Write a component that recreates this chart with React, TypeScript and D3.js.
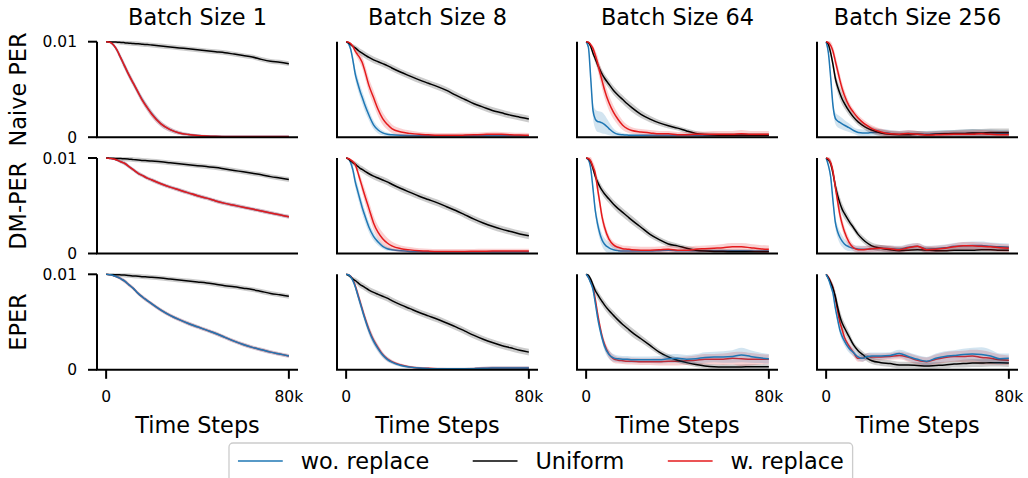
import React from "react";
import * as d3 from "d3";

// x grid in thousands of steps
const XK = [0, 1, 2, 3, 4, 5, 6, 7, 8, 10, 12, 14, 16, 18, 20, 24, 28, 32, 36, 40, 44, 48, 52, 56, 60, 64, 68, 72, 76, 80];

const ROW_LABELS = ["Naive PER", "DM-PER", "EPER"];
const COL_TITLES = ["Batch Size 1", "Batch Size 8", "Batch Size 64", "Batch Size 256"];
const X_TICKS = [0, 80000];
const X_TICK_LABELS = ["0", "80k"];
const Y_TICKS = [0, 0.01];
const Y_TICK_LABELS = ["0", "0.01"];
const SERIES_NAMES = ["wo. replace", "Uniform", "w. replace"];
const X_LABEL = "Time Steps";

// values in units of 1e-4
// ---- Naive PER ----
const naiveB1Blue = [100, 99.8, 99, 97, 94, 90, 85, 80, 75, 65, 56, 47, 38.5, 31, 24.5, 14, 8, 4.5, 2.8, 1.8, 1.2, 0.9, 0.8, 0.7, 0.7, 0.7, 0.7, 0.7, 0.7, 0.7];
const naiveB1Black = [100, 99.9, 99.8, 99.7, 99.6, 99.5, 99.3, 99.2, 99, 98.5, 98, 97.8, 97.3, 97, 96.5, 95.5, 94.5, 93.5, 92.5, 91.5, 90.5, 89.5, 88.5, 87, 85.5, 84, 81.5, 79.5, 78.5, 77];
const naiveB1Red = [100, 99.8, 99, 97, 94, 90, 85, 80, 75, 65, 56, 47, 38, 31, 24, 14, 8, 4.5, 2.8, 1.8, 1.2, 0.9, 0.8, 0.7, 0.7, 0.7, 0.7, 0.7, 0.7, 0.7];

const naiveB8Blue = [100, 98, 92, 80, 66, 57, 49, 42, 35, 23, 13, 7.5, 4.5, 3, 2.5, 2, 1.8, 1.6, 1.5, 1.5, 1.5, 1.5, 1.5, 1.5, 1.5, 1.5, 1.5, 1.5, 1.5, 1.5];
const naiveB8Black = [100, 99, 97, 95, 93.5, 91.5, 89.5, 88, 86.5, 83.5, 81, 79, 77, 75, 72.5, 68, 64, 60, 56.5, 53, 49, 44, 39.5, 35, 31.5, 28, 25.5, 23, 21, 19];
const naiveB8Red = [100, 99.5, 98, 95, 90, 86.5, 83, 78.5, 71, 54, 41.5, 29, 19.5, 13.5, 9, 5.5, 4, 3, 2.5, 2, 2, 2, 2.2, 2.5, 2.8, 3.2, 3, 2.5, 2.2, 2];

const naiveB64Blue = [100, 94, 62, 28, 19, 16.5, 16, 15, 13.5, 9, 5, 3, 2.5, 2.2, 2, 2, 2, 2, 2, 2, 2, 2, 2, 2, 2, 2, 2, 2, 2, 2];
const naiveB64Black = [100, 99, 95, 88, 82, 76, 71, 66, 62, 55.5, 49, 44, 39.5, 35, 31, 24, 19, 15, 12, 9.5, 6.5, 4, 2.8, 2.2, 2, 2, 2, 2, 2, 2];
const naiveB64Red = [100, 99.5, 97, 93, 86, 78, 68, 59, 50, 36, 26, 18.5, 12.5, 9, 7, 5.5, 4.5, 3.5, 3.5, 2.5, 2.5, 3, 3, 3, 3, 3, 3.5, 3, 3, 3];

const naiveB256Blue = [100, 88, 62, 33, 20, 17, 15.5, 14, 12.5, 10, 7, 5, 4.5, 4.5, 5, 5, 4, 3, 4, 3, 3, 3.5, 4, 4, 4, 4.5, 4, 4, 3.5, 3.5];
const naiveB256Black = [100, 97, 88, 76, 62, 53, 46, 40, 35.5, 27.5, 21, 16, 12.5, 9.5, 7.5, 4.5, 3, 2.5, 2.5, 3, 2.5, 3, 3.5, 4, 4, 4.5, 4.5, 5, 5, 5];
const naiveB256Red = [100, 99, 96, 90, 80, 70, 60, 51, 44, 33, 26, 20, 15.5, 12, 9, 5.5, 3.5, 3, 4, 3, 2.2, 2.5, 2.8, 3, 3, 3, 3.5, 3, 2.5, 2.5];

// ---- DM-PER ----
const dmB1Blue = [100, 99.8, 99.5, 99, 98.5, 97.5, 96.5, 95.5, 94.5, 91, 87.5, 84, 81.5, 79, 77, 73, 69.5, 66.5, 63.5, 60.5, 58, 55, 52.5, 50.5, 48.5, 46.5, 44.5, 42.5, 40.5, 38.5];
const dmB1Black = [100, 99.9, 99.8, 99.7, 99.6, 99.5, 99.4, 99.3, 99.2, 98.8, 98.3, 98, 97.5, 97.2, 96.8, 96, 95, 94, 93, 92, 91, 90, 88.5, 87, 85.5, 84, 82.5, 80.5, 79, 77.5];
const dmB1Red = [100, 99.8, 99.5, 99, 98.5, 97.5, 96.5, 95.5, 94.5, 91, 87.5, 84, 81.5, 79, 77, 73, 69.5, 66.5, 63.5, 60.5, 58, 55, 52.5, 50.5, 48.5, 46.5, 44.5, 42.5, 40.5, 38.5];

const dmB8Blue = [100, 99, 95, 87, 75, 66, 57, 48.5, 41, 27.5, 18, 12, 7.5, 5, 4, 2.8, 2.2, 2, 1.8, 1.8, 1.8, 1.8, 1.8, 1.8, 1.8, 1.8, 1.8, 1.8, 1.8, 1.8];
const dmB8Black = [100, 99, 97, 95, 93.5, 91.5, 89.5, 88, 86.5, 83.5, 81, 79, 77, 75, 72.5, 68, 64, 60, 56.5, 53, 49, 45, 40.5, 36, 32, 28.5, 25.5, 23, 20.5, 18.5];
const dmB8Red = [100, 99.5, 98, 96, 93, 86, 78, 70, 62, 47, 32, 22, 15.5, 11, 8, 5, 3.8, 3, 2.5, 2.2, 2.2, 2.2, 2.2, 2.3, 2.4, 2.5, 2.5, 2.5, 2.5, 2.5];

const dmB64Blue = [100, 98, 89, 68, 45, 31, 21, 14, 10, 6, 4, 3, 2.5, 2.5, 2.5, 2.5, 2.5, 3, 3.5, 3, 2.8, 3, 3, 3, 3, 3, 3, 2.8, 2.5, 2.5];
const dmB64Black = [100, 99, 96, 89, 81, 75, 70, 66, 62.5, 57, 51.5, 47, 43, 39, 35, 27.5, 20, 14.5, 10, 8, 5.5, 3.5, 2.5, 2, 2, 1.8, 1.8, 1.8, 1.8, 1.8];
const dmB64Red = [100, 99.5, 97, 91, 84, 68, 53, 38, 28, 15, 9, 6.5, 5, 4.5, 4, 3.5, 3.5, 3.8, 4.5, 3.5, 3.5, 4.5, 5, 5.5, 6, 7, 7, 6, 5, 4.5];

const dmB256Blue = [100, 92, 80, 55, 33, 23, 17, 13, 10, 7, 5.5, 4.8, 4.5, 4.5, 5, 5.5, 5, 4.5, 6.5, 7.5, 4.5, 5, 6, 7.5, 8, 8.5, 8.5, 7.5, 7, 6.5];
const dmB256Black = [100, 98, 94, 84, 71, 61, 53, 46.5, 42, 34, 27, 20, 15, 11, 8, 5.5, 4, 3, 3.5, 4, 3.5, 3, 3, 3.5, 3.5, 3.5, 4, 4, 3.5, 3.5];
const dmB256Red = [100, 99, 95, 86, 70, 55, 41, 31, 23, 12, 6, 4, 4, 4.5, 5, 5.5, 5, 4, 6, 7.5, 4, 4.5, 5.5, 7, 8, 8, 7.5, 7, 6, 5.5];

// ---- EPER ----
const eperB1Blue = [100, 99.9, 99.5, 98.8, 98, 97, 96, 94.5, 93, 89, 85, 80, 76, 72.5, 69, 62.5, 57, 52.5, 48.5, 45, 41.5, 38, 34, 30, 26.5, 23.5, 21, 18.5, 16.5, 14.5];
const eperB1Black = [100, 99.9, 99.8, 99.7, 99.6, 99.5, 99.4, 99.3, 99.2, 98.8, 98.3, 98, 97.5, 97.2, 96.8, 96, 95, 94, 93, 92, 91, 89.5, 88, 87, 85.5, 84, 82, 80, 78.5, 77];
const eperB1Red = [100, 99.9, 99.5, 98.8, 98, 97, 96, 94.5, 93, 89, 85, 80, 76, 72.5, 69, 62.5, 57, 52.5, 48.5, 45, 41.5, 38, 34, 30, 26.5, 23.5, 21, 18.5, 16.5, 14.5];

const eperB8Blue = [100, 99.5, 97.5, 93, 87, 79, 71, 63, 55, 41, 30, 22, 15.5, 11, 8, 4.5, 2.8, 1.8, 1.3, 1, 1, 1, 1, 1.2, 1.5, 1.8, 2, 2, 2, 2];
const eperB8Black = [100, 99, 97, 95, 93.5, 91.5, 89.5, 88, 86.5, 83.5, 81, 79, 77, 75, 72.5, 68, 64, 60, 56.5, 53, 49, 45, 40.5, 36, 32, 28.5, 25.5, 23, 20.5, 18.5];
const eperB8Red = [100, 99.5, 98, 94, 88, 80, 72, 64, 56, 42, 31, 23, 16, 11.5, 8.5, 5, 3, 2, 1.5, 1.2, 1, 1, 1, 1.2, 1.5, 1.8, 2, 2, 2, 2];

const eperB64Blue = [100, 96.5, 91, 84, 70, 55, 43, 33, 25, 16, 12.5, 11.5, 11, 11, 10.5, 10.5, 10.5, 10.5, 11.5, 12, 11, 11.5, 13, 13.5, 13.5, 14, 15.5, 14, 12.5, 11.5];
const eperB64Black = [100, 99, 95, 89, 83, 79, 75, 71.5, 68, 62, 57, 52, 47.5, 43.5, 39.5, 32.5, 25.5, 18.5, 13.5, 10, 7.5, 5.5, 4, 3.2, 3, 3, 3, 3.2, 3.2, 3.2];
const eperB64Red = [100, 97, 92, 86, 74, 59, 46, 35, 27, 16.5, 11.5, 10, 9.5, 9, 9, 8.5, 8.5, 8.5, 9, 9, 9.5, 10, 11, 11, 11, 12, 11.5, 11, 11, 11];

const eperB256Blue = [100, 95, 88, 80, 65, 53, 42, 35, 30, 22.5, 18, 13.5, 12, 14, 14.5, 14.5, 15, 17, 14, 11, 9, 12, 14, 15, 16, 16.5, 16, 14.5, 11.5, 12];
const eperB256Black = [100, 96, 91, 85, 77, 66, 56, 49, 44, 35, 26, 20, 16, 12, 9.5, 7.5, 6.5, 5, 5, 4.5, 4, 4.5, 5, 6, 6.5, 7, 7, 7.5, 7.5, 7];
const eperB256Red = [100, 97, 92, 86, 75, 62, 50, 42, 34, 25, 18, 12, 12, 14, 13.5, 13.5, 14, 15, 13, 10, 8.5, 11, 13, 14, 14, 14.5, 13, 12, 10.5, 10];

// band half-widths (units of 1e-4)
const bandB1Drop = [0, 0.4, 1, 1.6, 2.2, 2.8, 3.2, 3.5, 3.5, 3.5, 3.5, 3.5, 3.5, 3.5, 3.5, 3, 2.5, 2, 1.5, 1.2, 1, 0.8, 0.8, 0.8, 0.8, 0.8, 0.8, 0.8, 0.8, 0.8];
const bandB1Slow = [0, 0.3, 0.6, 0.9, 1.2, 1.5, 1.7, 1.8, 2, 2, 2, 2, 2, 2, 2, 2, 2, 2, 2, 2, 2, 2, 2, 2, 2, 2, 2, 2, 2, 2];
const bandUniformSlow = [0, 0.4, 0.8, 1.2, 1.6, 2, 2.3, 2.5, 2.5, 2.5, 2.5, 2.5, 2.5, 2.5, 2.5, 2.5, 2.5, 2.5, 2.5, 2.5, 2.5, 2.5, 2.5, 2.5, 2.5, 2.5, 2.5, 2.5, 2.5, 2.5];
const bandUniformB8 = [0, 0.8, 1.5, 2.2, 2.8, 3.2, 3.5, 3.5, 3.5, 3.5, 3.5, 3.5, 3.5, 3.5, 3.5, 3.5, 3.5, 3.5, 3.5, 3.5, 3.5, 3.5, 3.5, 3.5, 3.5, 3.5, 3.5, 3.5, 3.5, 3.5];
const bandRedB8 = [0, 0.5, 1, 2, 3, 4, 5, 6, 7, 7.5, 7.5, 7, 6.5, 5.5, 4.5, 3.5, 3, 2.5, 2.5, 2.5, 2.5, 2.5, 2.5, 2.5, 2.5, 2.5, 2.5, 2.5, 2.5, 2.5];
const bandBlueB8 = [0, 1, 3, 5, 6, 6.5, 6.5, 6.5, 6.5, 5.5, 4.5, 3.5, 2.5, 2, 1.5, 1.2, 1.2, 1.2, 1.2, 1.2, 1.2, 1.2, 1.2, 1.2, 1.2, 1.2, 1.2, 1.2, 1.2, 1.2];
const bandEperB8 = [0, 0.5, 1, 2, 3, 4, 4.5, 4.5, 4.5, 4.5, 4, 3.5, 3, 2.5, 2, 1.5, 1.2, 1.2, 1.2, 1.2, 1.2, 1.2, 1.2, 1.4, 1.6, 1.8, 1.8, 1.8, 1.8, 1.8];
const bandUniformFast = [0, 1, 2, 3, 4, 4.5, 4.5, 4.5, 4.5, 4.5, 4.5, 4.5, 4.5, 4.5, 4.5, 4, 3.5, 3, 3, 2.5, 2.5, 2.5, 2.5, 2.5, 2.5, 2.5, 2.5, 2.5, 2.5, 2.5];
const bandBlueB64 = [0, 2, 5, 8, 10, 11, 11, 11, 10, 7, 4, 2.5, 2, 1.5, 1.5, 1.5, 1.5, 1.5, 1.5, 1.5, 1.5, 1.5, 1.5, 1.5, 1.5, 1.5, 1.5, 1.5, 1.5, 1.5];
const bandRedB64 = [0, 0.5, 1, 3, 5, 7, 8, 8.5, 8.5, 8, 7, 6, 5, 4, 3.5, 3, 3, 3, 3, 3, 3, 3, 3, 3.5, 3.5, 3.5, 4, 3.5, 3.5, 3.5];
const bandFastTail = [0, 2, 4, 5, 6, 6.5, 6.5, 6, 5.5, 4.5, 3.5, 3.5, 3.5, 3.5, 3.5, 3.5, 3.5, 3.5, 3.5, 3.5, 3.5, 3.5, 3.5, 3.5, 4, 4, 4, 4, 4, 4];
const bandEperTail = [0, 1, 2, 3, 4, 4.5, 4.5, 4.5, 4.5, 4.5, 4, 3.5, 3.5, 3.5, 3.5, 3.5, 3.5, 4, 4.5, 4.5, 4.5, 5, 5.5, 5.5, 6, 6.5, 7.5, 6.5, 5.5, 5];

type Panel = { blue: number[]; black: number[]; red: number[]; bb: number[]; kb: number[]; rb: number[] };

const PANELS: Panel[][] = [
  [
    { blue: naiveB1Blue, black: naiveB1Black, red: naiveB1Red, bb: bandB1Drop, kb: bandUniformSlow, rb: bandB1Drop },
    { blue: naiveB8Blue, black: naiveB8Black, red: naiveB8Red, bb: bandBlueB8, kb: bandUniformB8, rb: bandRedB8 },
    { blue: naiveB64Blue, black: naiveB64Black, red: naiveB64Red, bb: bandBlueB64, kb: bandUniformFast, rb: bandRedB64 },
    { blue: naiveB256Blue, black: naiveB256Black, red: naiveB256Red, bb: bandFastTail, kb: bandFastTail, rb: bandFastTail },
  ],
  [
    { blue: dmB1Blue, black: dmB1Black, red: dmB1Red, bb: bandB1Slow, kb: bandUniformSlow, rb: bandB1Slow },
    { blue: dmB8Blue, black: dmB8Black, red: dmB8Red, bb: bandBlueB8, kb: bandUniformB8, rb: bandRedB8 },
    { blue: dmB64Blue, black: dmB64Black, red: dmB64Red, bb: bandBlueB8, kb: bandUniformFast, rb: bandFastTail },
    { blue: dmB256Blue, black: dmB256Black, red: dmB256Red, bb: bandFastTail, kb: bandFastTail, rb: bandFastTail },
  ],
  [
    { blue: eperB1Blue, black: eperB1Black, red: eperB1Red, bb: bandB1Slow, kb: bandUniformSlow, rb: bandB1Slow },
    { blue: eperB8Blue, black: eperB8Black, red: eperB8Red, bb: bandEperB8, kb: bandUniformB8, rb: bandEperB8 },
    { blue: eperB64Blue, black: eperB64Black, red: eperB64Red, bb: bandEperTail, kb: bandUniformFast, rb: bandEperTail },
    { blue: eperB256Blue, black: eperB256Black, red: eperB256Red, bb: bandEperTail, kb: bandFastTail, rb: bandEperTail },
  ],
];

const W = 1028;
const H = 478;
const FONT = "DejaVu Sans, sans-serif";
const BIG = 22.4;
const COL_X0 = 97;
const COL_STEP = 240;
const AX_W = 201;
const ROW_Y0 = 41.7;
const ROW_STEP = 116.3;
const AX_H = 95.5;

const C_BLUE = "#1f77b4";
const C_RED = "#e41a1c";
const C_BLACK = "#000000";

function PanelView({ p, r, c }: { p: Panel; r: number; c: number }) {
  const x0 = COL_X0 + c * COL_STEP;
  const y0 = ROW_Y0 + r * ROW_STEP;
  const xs = d3.scaleLinear().domain([-4000, 84000]).range([x0, x0 + AX_W]);
  const ys = d3.scaleLinear().domain([0, 0.01]).range([y0 + AX_H, y0]);
  const pts = XK.map((k) => k * 1000);
  const line = d3
    .line<number>()
    .x((_, i) => xs(pts[i]))
    .y((d) => ys(d / 10000))
    .curve(d3.curveMonotoneX);
  const area = (vals: number[], band: number[]) =>
    d3
      .area<number>()
      .x((_, i) => xs(pts[i]))
      .y0((d, i) => ys(Math.max(0, d - band[i]) / 10000))
      .y1((d, i) => ys((d + band[i]) / 10000))
      .curve(d3.curveMonotoneX)(vals) || "";
  const clipId = `clip-${r}-${c}`;
  const series =
    r === 2
      ? [
          { v: p.red, b: p.rb, col: C_RED },
          { v: p.black, b: p.kb, col: C_BLACK },
          { v: p.blue, b: p.bb, col: C_BLUE },
        ]
      : [
          { v: p.blue, b: p.bb, col: C_BLUE },
          { v: p.black, b: p.kb, col: C_BLACK },
          { v: p.red, b: p.rb, col: C_RED },
        ];
  return (
    <g>
      <defs>
        <clipPath id={clipId}>
          <rect x={x0} y={y0 - 1} width={AX_W} height={AX_H + 1} />
        </clipPath>
      </defs>
      <g clipPath={`url(#${clipId})`}>
        {series.map((s, i) => (
          <g key={i}>
            <path d={area(s.v, s.b)} fill={s.col} fillOpacity={0.2} stroke="none" />
            <path d={line(s.v) || ""} fill="none" stroke={s.col} strokeWidth={1.5} />
          </g>
        ))}
      </g>
      {/* spines */}
      <line x1={x0} x2={x0} y1={y0} y2={y0 + AX_H} stroke="#000" strokeWidth={2} />
      <line x1={x0 - 1} x2={x0 + AX_W} y1={y0 + AX_H} y2={y0 + AX_H} stroke="#000" strokeWidth={2} />
      {c === 0 &&
        Y_TICKS.map((t, i) => (
          <g key={i}>
            <line x1={x0 - 9} x2={x0} y1={ys(t)} y2={ys(t)} stroke="#000" strokeWidth={2} />
            <text x={x0 - 20} y={ys(t)} dy="0.36em" textAnchor="end" fontSize={15.5} fontFamily={FONT}>
              {Y_TICK_LABELS[i]}
            </text>
          </g>
        ))}
      {r === 2 &&
        X_TICKS.map((t, i) => (
          <g key={i}>
            <line x1={xs(t)} x2={xs(t)} y1={y0 + AX_H} y2={y0 + AX_H + 9} stroke="#000" strokeWidth={2} />
            <text x={xs(t)} y={y0 + AX_H + 32} textAnchor="middle" fontSize={15.5} fontFamily={FONT}>
              {X_TICK_LABELS[i]}
            </text>
          </g>
        ))}
      {r === 0 && (
        <text x={x0 + AX_W / 2} y={25} textAnchor="middle" fontSize={BIG} fontFamily={FONT}>
          {COL_TITLES[c]}
        </text>
      )}
      {r === 2 && (
        <text x={x0 + AX_W / 2} y={433} textAnchor="middle" fontSize={BIG} fontFamily={FONT}>
          {X_LABEL}
        </text>
      )}
      {c === 0 && (
        <text
          transform={`translate(25.5,${y0 + AX_H / 2}) rotate(-90)`}
          textAnchor="middle"
          fontSize={BIG}
          fontFamily={FONT}
        >
          {ROW_LABELS[r]}
        </text>
      )}
    </g>
  );
}

function Legend() {
  const fs = BIG;
  const x = 229;
  const y = 443;
  const colors = [C_BLUE, C_BLACK, C_RED];
  const widths = [5.68 * fs, 3.91 * fs, 5.05 * fs];
  let cx = x + 0.4 * fs;
  const items = SERIES_NAMES.map((name, i) => {
    const hx = cx;
    const tx = hx + 2 * fs + 0.8 * fs;
    cx = tx + widths[i] + 2 * fs;
    return { name, hx, tx, col: colors[i] };
  });
  const boxW = cx - 2 * fs + 0.4 * fs - x;
  const cy = 461;
  return (
    <g>
      <rect x={x} y={y} width={boxW} height={48} rx={4} fill="#fff" fillOpacity={0.8} stroke="#cccccc" strokeWidth={1.3} />
      {items.map((it, i) => (
        <g key={i}>
          <line x1={it.hx} x2={it.hx + 2 * fs} y1={cy} y2={cy} stroke={it.col} strokeWidth={1.5} />
          <text x={it.tx} y={cy} dy="0.36em" fontSize={fs} fontFamily={FONT}>
            {it.name}
          </text>
        </g>
      ))}
    </g>
  );
}

export default function App() {
  return (
    <svg width={W} height={H} style={{ position: "absolute", left: 0, top: 0, background: "#fff" }}>
      <rect width={W} height={H} fill="#fff" />
      {PANELS.map((row, r) => row.map((p, c) => <PanelView key={`${r}-${c}`} p={p} r={r} c={c} />))}
      <Legend />
    </svg>
  );
}
